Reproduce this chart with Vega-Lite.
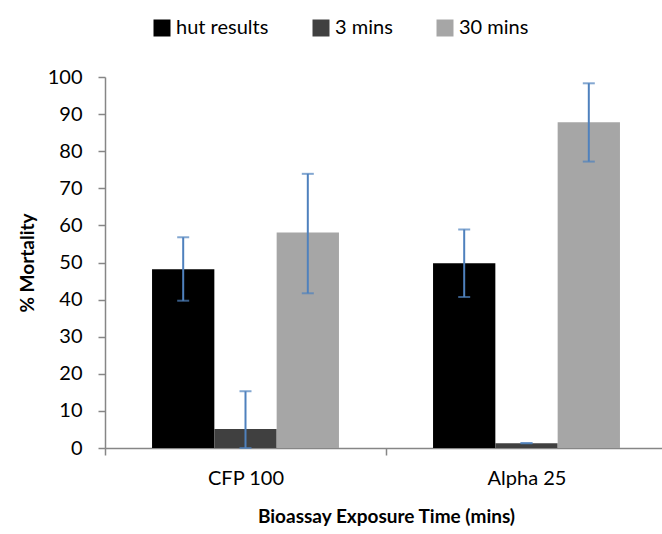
{
  "$schema": "https://vega.github.io/schema/vega-lite/v6.json",
  "width": 557,
  "height": 371,
  "autosize": {"type": "none"},
  "padding": {"left": 105, "top": 77, "right": 0, "bottom": 86},
  "background": "white",
  "config": {
    "font": "Lato",
    "view": {"stroke": null},
    "axis": {"labelColor": "#000000", "titleColor": "#000000", "domainColor": "#868686", "tickColor": "#868686", "grid": false, "domainWidth": 1.5, "tickWidth": 1.5}
  },
  "data": {
    "values": [
      {"group": "CFP 100", "series": "hut results", "value": 48.2, "lower": 39.7, "upper": 56.8},
      {"group": "CFP 100", "series": "3 mins", "value": 5.1, "lower": 0, "upper": 15.3},
      {"group": "CFP 100", "series": "30 mins", "value": 58.1, "lower": 41.7, "upper": 73.9},
      {"group": "Alpha 25", "series": "hut results", "value": 49.8, "lower": 40.7, "upper": 58.9},
      {"group": "Alpha 25", "series": "3 mins", "value": 1.3, "lower": 1.3, "upper": 1.3},
      {"group": "Alpha 25", "series": "30 mins", "value": 87.8, "lower": 77.2, "upper": 98.3}
    ]
  },
  "encoding": {
    "x": {
      "field": "group",
      "type": "nominal",
      "sort": ["CFP 100", "Alpha 25"],
      "scale": {"range": [0, 562], "paddingInner": 0, "paddingOuter": 0},
      "axis": {
        "title": "Bioassay  Exposure Time (mins)",
        "labelAngle": 0,
        "labelFontSize": 20,
        "labelPadding": 13,
        "tickSize": 7,
        "tickBand": "extent",
        "titleFontSize": 19,
        "titleFontWeight": "bold",
        "titlePadding": 19
      }
    },
    "xOffset": {
      "field": "series",
      "type": "nominal",
      "sort": ["hut results", "3 mins", "30 mins"],
      "scale": {"paddingInner": 0, "paddingOuter": 0.755}
    }
  },
  "layer": [
    {
      "mark": {"type": "bar"},
      "encoding": {
        "y": {
          "field": "value",
          "type": "quantitative",
          "scale": {"domain": [0, 100]},
          "axis": {
            "title": "% Mortality",
            "values": [0, 10, 20, 30, 40, 50, 60, 70, 80, 90, 100],
            "labelFontSize": 20,
            "labelPadding": 16,
            "tickSize": 7,
            "titleFontSize": 19,
            "titleFontWeight": "bold",
            "titlePadding": 10
          }
        },
        "color": {
          "field": "series",
          "type": "nominal",
          "scale": {"domain": ["hut results", "3 mins", "30 mins"], "range": ["#000000", "#404040", "#a6a6a6"]},
          "legend": {
            "title": null,
            "orient": "none",
            "direction": "horizontal",
            "legendX": 47,
            "legendY": -59,
            "symbolType": "square",
            "symbolSize": 289,
            "symbolStrokeWidth": 0,
            "symbolOpacity": 1,
            "labelFontSize": 20,
            "labelOffset": 4,
            "columnPadding": 42,
            "padding": 0
          }
        }
      }
    },
    {
      "mark": {"type": "rule", "color": "#4f81bd", "strokeWidth": 2},
      "encoding": {
        "y": {
          "field": "lower",
          "type": "quantitative",
          "axis": {
            "title": "% Mortality",
            "values": [0, 10, 20, 30, 40, 50, 60, 70, 80, 90, 100],
            "labelFontSize": 20,
            "labelPadding": 16,
            "tickSize": 7,
            "titleFontSize": 19,
            "titleFontWeight": "bold",
            "titlePadding": 10
          }
        },
        "y2": {"field": "upper"}
      }
    },
    {
      "mark": {"type": "tick", "color": "#4f81bd", "thickness": 2, "size": 12, "orient": "horizontal"},
      "encoding": {
        "y": {
          "field": "upper",
          "type": "quantitative",
          "axis": {
            "title": "% Mortality",
            "values": [0, 10, 20, 30, 40, 50, 60, 70, 80, 90, 100],
            "labelFontSize": 20,
            "labelPadding": 16,
            "tickSize": 7,
            "titleFontSize": 19,
            "titleFontWeight": "bold",
            "titlePadding": 10
          }
        }
      }
    },
    {
      "mark": {"type": "tick", "color": "#4f81bd", "thickness": 2, "size": 12, "orient": "horizontal"},
      "encoding": {
        "y": {
          "field": "lower",
          "type": "quantitative",
          "axis": {
            "title": "% Mortality",
            "values": [0, 10, 20, 30, 40, 50, 60, 70, 80, 90, 100],
            "labelFontSize": 20,
            "labelPadding": 16,
            "tickSize": 7,
            "titleFontSize": 19,
            "titleFontWeight": "bold",
            "titlePadding": 10
          }
        }
      }
    }
  ]
}
